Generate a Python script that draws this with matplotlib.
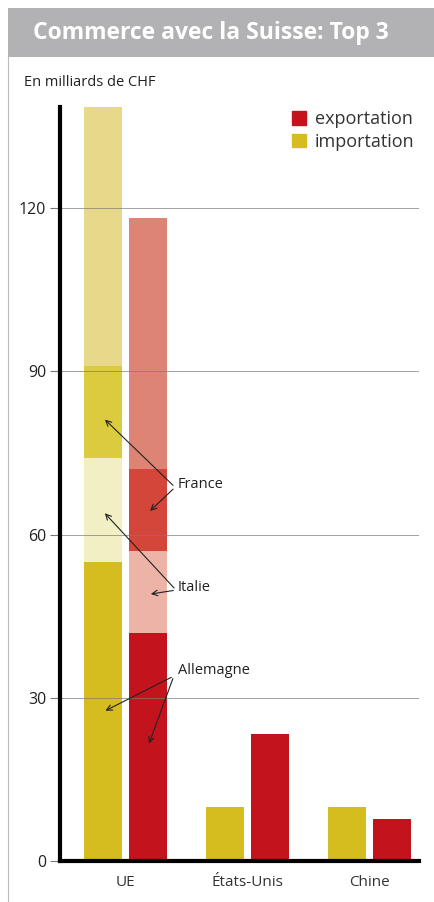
import numpy as np
import matplotlib.pyplot as plt
from matplotlib.patches import Patch, Rectangle
from matplotlib.lines import Line2D

plt.rcParams['font.family'] = ['Open Sans', 'DejaVu Sans']

countries = ['UE', 'États-Unis', 'Chine']
imports_total = [138.6, 10.0, 10.0]
exports_total = [118.2, 23.3, 7.7]

# UE breakdown, from the bottom: Allemagne, Italie, France, reste
ue_parts = ['Allemagne', 'Italie', 'France', 'reste']
ue_import = [55.0, 19.0, 17.0, 47.6]
ue_export = [42.0, 15.0, 15.0, 46.2]

imp_cols = ['#d6bd1f', '#f3efc4', '#dccb3e', '#e8d98a']
exp_cols = ['#c3141e', '#edb3a6', '#d4453a', '#dd8475']
imp_main = '#d6bd1f'
exp_main = '#c3141e'

fig = plt.figure(figsize=(4.35, 9.02), dpi=100)

# title band
fig.patches.append(Rectangle((8 / 435, 1 - 57 / 902), 1, 49 / 902, transform=fig.transFigure,
                             facecolor='#b2b2b4', edgecolor='none'))
fig.text(33 / 435, 1 - 33 / 902, 'Commerce avec la Suisse: Top 3', color='white',
         fontsize=16.5, fontweight='bold', va='center', ha='left')
fig.lines.append(Line2D([8.5 / 435, 8.5 / 435], [0, 1 - 57 / 902], transform=fig.transFigure,
                        color='#bbbbbb', lw=0.8))
fig.text(24 / 435, 1 - 83 / 902, 'En milliards de CHF', fontsize=10.5, va='center', ha='left', color='#222222')

ax = fig.add_axes([60 / 435, 1 - 861 / 902, 359 / 435, (861 - 107) / 902])
x = np.arange(len(countries))
w = 0.31
off = 0.185

# stacked UE bars
bottom_i = 0
bottom_e = 0
for k in range(len(ue_parts)):
    ax.bar(x[0] - off, ue_import[k], w, bottom=bottom_i, color=imp_cols[k], zorder=2)
    ax.bar(x[0] + off, ue_export[k], w, bottom=bottom_e, color=exp_cols[k], zorder=2)
    bottom_i += ue_import[k]
    bottom_e += ue_export[k]

ax.bar(x[1:] - off, imports_total[1:], w, color=imp_main, zorder=2)
ax.bar(x[1:] + off, exports_total[1:], w, color=exp_main, zorder=2)

ax.set_xlim(-0.537, 2.406)
ax.set_ylim(0, 138.6)
ax.set_yticks([0, 30, 60, 90, 120])
ax.set_xticks(x)
ax.set_xticklabels(countries, fontsize=11, color='#333333')
ax.tick_params(axis='x', length=0, pad=10)
ax.tick_params(axis='y', length=7, width=0.8, color='#777777', labelsize=11.5, pad=3, labelcolor='#222222')
for v in [30, 60, 90, 120]:
    ax.axhline(v, color='#7a7a7a', lw=0.7, alpha=0.7, zorder=3)

for s in ['top', 'right']:
    ax.spines[s].set_visible(False)
ax.spines['left'].set_linewidth(3)
ax.spines['bottom'].set_linewidth(3)
ax.spines['left'].set_zorder(4)
ax.spines['bottom'].set_zorder(4)

# annotations
labels = ['France', 'Italie', 'Allemagne']
label_pos = [(0.43, 69.3), (0.43, 50.2), (0.43, 35.1)]
arrow_start = [(0.406, 68.7), (0.414, 49.8), (0.396, 34.0)]
arrow_imp = [81.5, 64.3, 27.4]
arrow_exp = [64.0, 49.0, 21.1]
for lab, (tx, ty), (sx, sy), yi, ye in zip(labels, label_pos, arrow_start, arrow_imp, arrow_exp):
    ax.text(tx, ty, lab, fontsize=10.5, va='center', ha='left', color='#222222', zorder=5)
    for (ex, ey) in [(-off, yi), (off, ye)]:
        ax.annotate('', xy=(ex, ey), xytext=(sx, sy),
                    arrowprops=dict(arrowstyle='->', color='#222222', lw=0.8), zorder=5)

handles = [Patch(color=exp_main), Patch(color=imp_main)]
fig.legend(handles, ['exportation', 'importation'], loc='upper left',
           bbox_to_anchor=(276 / 435, 1 - 94 / 902), frameon=False, fontsize=13,
           handlelength=0.75, handleheight=0.75, handletextpad=0.5, labelspacing=0.25,
           labelcolor='#333333')

fig.savefig('out.png', dpi=100)
